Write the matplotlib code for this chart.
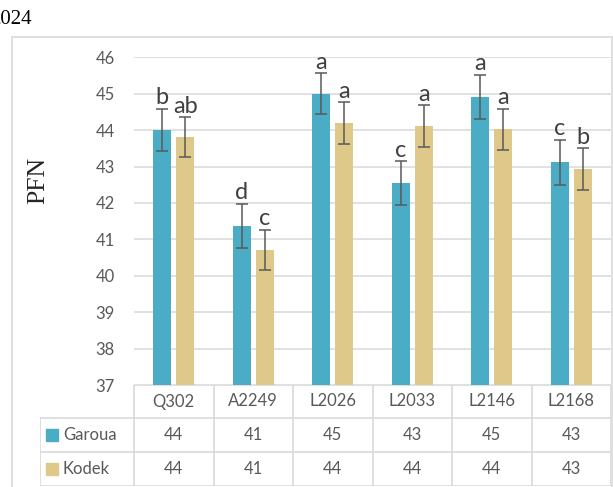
import matplotlib.pyplot as plt
import numpy as np
from matplotlib.patches import Rectangle

# PFN per variety at the two sites
varieties = ["Q302", "A2249", "L2026", "L2033", "L2146", "L2168"]
garoua = [44.0, 41.37, 45.0, 42.54, 44.91, 43.12]
kodek = [43.80, 40.71, 44.19, 44.11, 44.02, 42.93]
garoua_err = [0.58, 0.60, 0.56, 0.60, 0.61, 0.62]
kodek_err = [0.55, 0.56, 0.57, 0.57, 0.57, 0.57]
garoua_letters = ["b", "d", "a", "c", "a", "c"]
kodek_letters = ["ab", "c", "a", "a", "a", "b"]

c_gar = "#4BACC6"
c_kod = "#DEC98B"
grey = "#595959"
sans = "Lato"

W, H = 613, 487
fig = plt.figure(figsize=(W / 100, H / 100), dpi=100)

def fx(px):
    return px / W

def fy(py):
    return 1 - py / H

# outer frame of the chart area
fig.patches.append(Rectangle((fx(12), fy(520)), fx(600), (520 - 37) / H,
                             transform=fig.transFigure, fill=False,
                             edgecolor="#D9D9D9", lw=1.2))
fig.text(fx(32), fy(19), "2024", ha="right", va="center",
         family="Liberation Serif", fontsize=15, color="black")

left, right, top, bottom = 134, 611, 57.3, 385
ax = fig.add_axes([fx(left), fy(bottom), fx(right - left), (bottom - top) / H])

x = np.arange(len(varieties))
bw = 0.228
off = 0.145
ax.bar(x - off, [g - 37 for g in garoua], bw, bottom=37, color=c_gar, zorder=2)
ax.bar(x + off, [k - 37 for k in kodek], bw, bottom=37, color=c_kod, zorder=2)
ax.errorbar(x - off, garoua, yerr=garoua_err, fmt="none", ecolor=grey,
            elinewidth=1.1, capsize=4.5, capthick=1.1, zorder=3)
ax.errorbar(x + off, kodek, yerr=kodek_err, fmt="none", ecolor=grey,
            elinewidth=1.1, capsize=4.5, capthick=1.1, zorder=3)

for xi, v, e, s in zip(x - off, garoua, garoua_err, garoua_letters):
    ax.annotate(s, (xi, v + e), xytext=(0, 0.5), textcoords="offset points",
                ha="center", va="bottom", family=sans, fontsize=17, color="#404040")
for xi, v, e, s in zip(x + off, kodek, kodek_err, kodek_letters):
    ax.annotate(s, (xi, v + e), xytext=(0, 0.5), textcoords="offset points",
                ha="center", va="bottom", family=sans, fontsize=17, color="#404040")

ax.set_xlim(-0.5, len(varieties) - 0.5)
ax.set_ylim(37, 46)
ax.set_yticks(range(37, 47))
ax.set_xticks([])
ax.tick_params(axis="y", length=0, pad=14, labelcolor=grey, labelsize=12)
for lab in ax.get_yticklabels():
    lab.set_family(sans)
ax.grid(axis="y", color="#D9D9D9", lw=1.1, zorder=0)
for sp in ["left", "right", "top", "bottom"]:
    ax.spines[sp].set_visible(False)
fig.text(fx(38), fy(180), "PFN", rotation=90, ha="center", va="center",
         family="Liberation Serif", fontsize=18.5, color="#262626")

# data table under the axis
tab_left, tab_bottom = 40, 486
ncol = len(varieties)
unit = (right - left) / ncol
tx0 = -0.5 - (left - tab_left) / unit
tax = fig.add_axes([fx(tab_left), fy(tab_bottom), fx(right - tab_left),
                    (tab_bottom - bottom) / H])
tax.set_xlim(tx0, ncol - 0.5)
row_h = [33, 34, 34]
edges = np.cumsum([0] + row_h[::-1])
tax.set_ylim(0, edges[-1])
tax.axis("off")
lc = "#D9D9D9"
# horizontal rules
tax.plot([-0.5, ncol - 0.5], [edges[3], edges[3]], color=lc, lw=1.2)
for yv in edges[:3]:
    tax.plot([tx0, ncol - 0.5], [yv, yv], color=lc, lw=1.2)
# vertical rules
tax.plot([tx0, tx0], [edges[0], edges[2]], color=lc, lw=1.2)
for k in range(ncol + 1):
    tax.plot([k - 0.5, k - 0.5], [edges[0], edges[3]], color=lc, lw=1.2)

hdr_y = (edges[2] + edges[3]) / 2
g_y = (edges[1] + edges[2]) / 2
k_y = (edges[0] + edges[1]) / 2
for i, name in enumerate(varieties):
    tax.text(i, hdr_y, name, ha="center", va="center", family=sans,
             fontsize=12, color=grey)
    tax.text(i, g_y, f"{garoua[i]:.0f}", ha="center", va="center",
             family=sans, fontsize=12, color=grey)
    tax.text(i, k_y, f"{kodek[i]:.0f}", ha="center", va="center",
             family=sans, fontsize=12, color=grey)

for yv, name, col in [(g_y, "Garoua", c_gar), (k_y, "Kodek", c_kod)]:
    sq = 12 / unit
    tax.add_patch(Rectangle((tx0 + 6 / unit, yv - 6), sq, 12, color=col))
    tax.text(tx0 + 23 / unit, yv, name, ha="left", va="center", family=sans,
             fontsize=12, color=grey)

fig.savefig("out.png", dpi=100)
